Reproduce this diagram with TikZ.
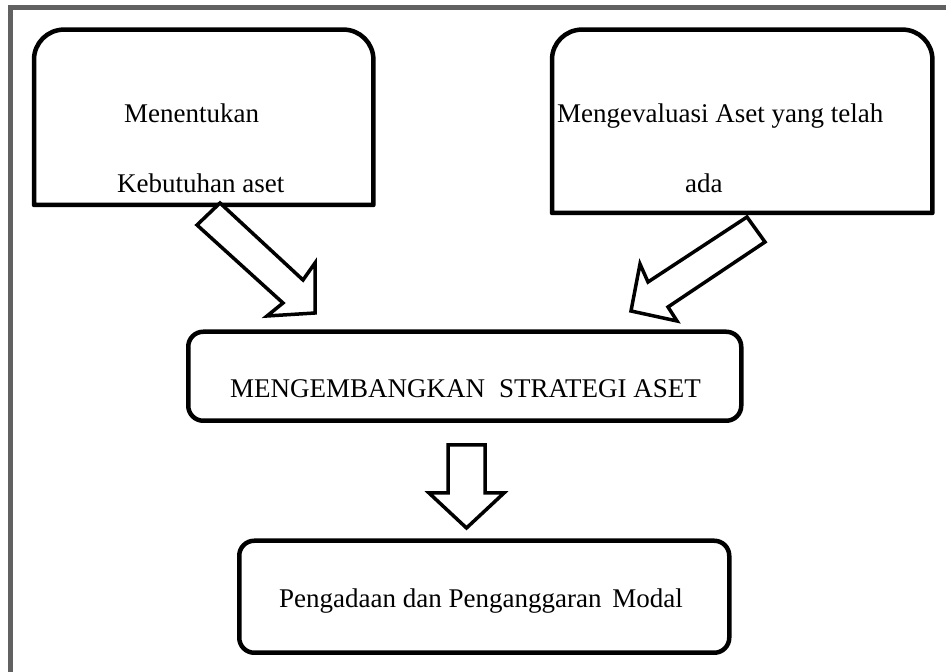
\documentclass[tikz,border=0pt]{standalone}
\usepackage{fontspec}
\setmainfont{Liberation Serif}
\begin{document}
\begin{tikzpicture}[x=1pt,y=1pt,
  boxline/.style={line width=4.5pt, line join=round},
  roundbox/.style={draw, line width=4.5pt, rounded corners=15pt, inner sep=0pt},
  holder/.style={draw=none, inner sep=0pt, anchor=south west},
  txt/.style={inner sep=0pt, anchor=base west, font=\fontsize{27}{32}\selectfont},
  blockarrow/.style={draw, line width=3.5pt, line join=miter, fill=white},
  frameline/.style={draw=black!62, line width=5pt}]
\useasboundingbox (0,0) rectangle (946,672);
\fill[white] (0,0) rectangle (946,672);
% outer frame (top and left only)
\coordinate (fb) at (10.5,0);
\coordinate (fc) at (10.5,664);
\coordinate (fr) at (946,664);
\draw[frameline] (fb) -- (fc) -- (fr);
% top-left box
\node[holder, minimum width=339pt, minimum height=175pt] (need) at (34,467) {};
\draw[boxline] (need.south west) -- ([yshift=-30pt]need.north west)
  arc[start angle=180,end angle=90,radius=30pt] -- ([xshift=-30pt]need.north east)
  arc[start angle=90,end angle=0,radius=30pt] -- (need.south east) -- cycle;
\node[txt] (t1a) at (124,549) {Menentukan};
\node[txt] (t1b) at (117,479) {Kebutuhan aset};
% top-right box
\node[holder, minimum width=380pt, minimum height=183pt] (eval) at (552,459) {};
\draw[boxline] (eval.south west) -- ([yshift=-30pt]eval.north west)
  arc[start angle=180,end angle=90,radius=30pt] -- ([xshift=-30pt]eval.north east)
  arc[start angle=90,end angle=0,radius=30pt] -- (eval.south east) -- cycle;
\node[txt] (t2a) at (557,549) {Mengevaluasi Aset yang telah};
\node[txt] (t2b) at (685,479) {ada};
% middle box
\node[roundbox, anchor=south west, minimum width=553pt, minimum height=89pt] (strat) at (186,249) {};
\node[txt] (t3) at (230,274) {MENGEMBANGKAN\hspace{14pt}STRATEGI ASET};
% bottom box
\node[roundbox, anchor=south west, minimum width=490pt, minimum height=112pt] (modal) at (237,17) {};
\node[txt] (t4) at (279,64) {Pengadaan dan Penganggaran\hspace{4pt} Modal};
% block arrows
\draw[blockarrow] (220,469) -- (303,392) -- (315,409) -- (315,359) -- (267,356) -- (283,369) -- (197,447) -- cycle;
\draw[blockarrow] (747,455) -- (765,430) -- (668,365) -- (677,351) -- (631,361) -- (640,408) -- (648,390) -- cycle;
\draw[blockarrow] (448,227) -- (485,227) -- (485,179) -- (504,179) -- (466.5,144) -- (429,179) -- (448,179) -- cycle;
\end{tikzpicture}
\end{document}
